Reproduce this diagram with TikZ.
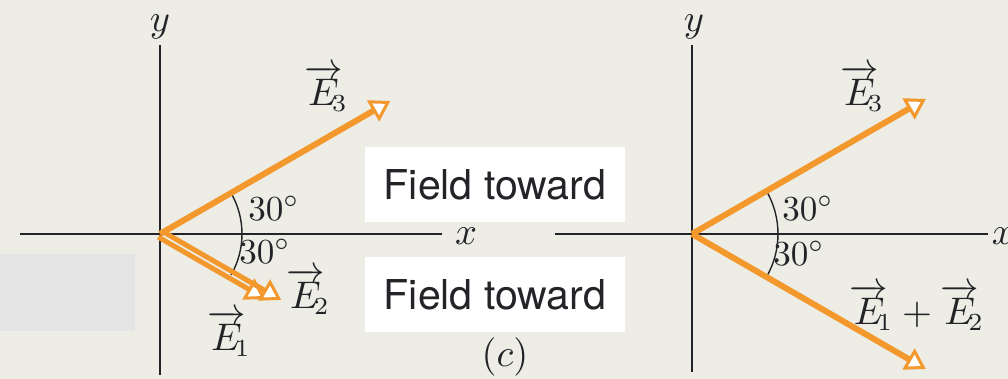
\documentclass[tikz,border=0pt]{standalone}
\usepackage{amsmath,amssymb}
\usepackage{fontspec}
\newfontfamily\boxfont{TeX Gyre Heros}
\usetikzlibrary{arrows.meta,positioning,calc}
\definecolor{bgcol}{RGB}{237,237,230}
\definecolor{greybox}{RGB}{228,228,228}
\definecolor{fieldorange}{RGB}{242,152,45}
\definecolor{inkcol}{RGB}{35,35,40}
\newcommand{\fieldvec}[1]{\overrightarrow{E}\mkern-5mu_{#1}}

\begin{document}
\begin{tikzpicture}[
    x=0.1mm, y=0.1mm,
    axis/.style={draw=inkcol, line width=0.4pt},
    vec/.style={draw=fieldorange, line width=0.6mm, -{Triangle[fill=white, length=2mm, width=2.4mm, line width=0.3mm]}},
    thinvec/.style={vec, line width=0.5mm},
    lab/.style={text=inkcol, inner sep=0pt, font=\fontsize{10.5}{12}\selectfont},
    ang/.style={text=inkcol, inner sep=0pt, font=\fontsize{10}{12}\selectfont},
    fieldbox/.style={fill=white, minimum width=2.6cm, minimum height=0.75cm, inner sep=0pt, text=inkcol, font=\boxfont\fontsize{11.7}{14}\selectfont}
]
    \useasboundingbox (0,0) rectangle (1008,379);
    \clip (0,0) rectangle (1008,379);
    \fill[bgcol] (0,0) rectangle (1008,379);
    \fill[greybox] (0,48) rectangle (135,125);

    % left panel
    \coordinate (O1) at (160,145);
    \draw[axis] (20,145) -- (442,145);
    \draw[axis] (160,4) -- (160,334);
    \node[lab] (y1) at (160,352) {$y$};
    \node[lab] (x1) at (466,143) {$x$};
    \coordinate (T1) at ($(O1)+(30:266)$);
    \coordinate (S1) at ($(O1)+(240:3.5)$);
    \coordinate (S2) at ($(O1)+(60:3.5)$);
    \coordinate (P1) at ($(S1)+(-30:124)$);
    \coordinate (P2) at ($(S2)+(-30:138)$);
    \draw[axis] (O1) ++(0:82) arc[start angle=0, end angle=30, radius=82];
    \draw[axis] (O1) ++(0:82) arc[start angle=0, end angle=-30, radius=82];
    \draw[thinvec] (S1) -- (P1);
    \draw[thinvec] (S2) -- (P2);
    \draw[vec] (O1) -- (T1);
    \node[lab] (e3a) at (326,291) {$\fieldvec{3}$};
    \node[lab] (e2a) at (308,88) {$\fieldvec{2}$};
    \node[lab] (e1a) at (229,46) {$\fieldvec{1}$};
    \node[ang] (a1) at (274,171) {$30^{\circ}$};
    \node[ang] (a2) at (265,128) {$30^{\circ}$};

    % middle boxes
    \node[fieldbox] (f1) at (495,194) {Field toward};
    \node[fieldbox] (f2) at (495,84) {Field toward};
    \node[lab] (cap) at (505,22) {$(c)$};

    % right panel
    \coordinate (O2) at (692,145);
    \draw[axis] (555,145) -- (988,145);
    \draw[axis] (692,7) -- (692,334);
    \node[lab] (y2) at (694,352) {$y$};
    \node[lab] (x2) at (1003,143) {$x$};
    \coordinate (T2) at ($(O2)+(30:270)$);
    \coordinate (T3) at ($(O2)+(-30:270)$);
    \draw[axis] (O2) ++(0:86) arc[start angle=0, end angle=30, radius=86];
    \draw[axis] (O2) ++(0:86) arc[start angle=0, end angle=-30, radius=86];
    \draw[vec] (O2) -- (T2);
    \draw[vec] (O2) -- (T3);
    \node[lab] (e3b) at (862,291) {$\fieldvec{3}$};
    \node[lab] (e12) at (917,72) {$\fieldvec{1}+\fieldvec{2}$};
    \node[ang] (b1) at (808,171) {$30^{\circ}$};
    \node[ang] (b2) at (799,126) {$30^{\circ}$};
\end{tikzpicture}
\end{document}
